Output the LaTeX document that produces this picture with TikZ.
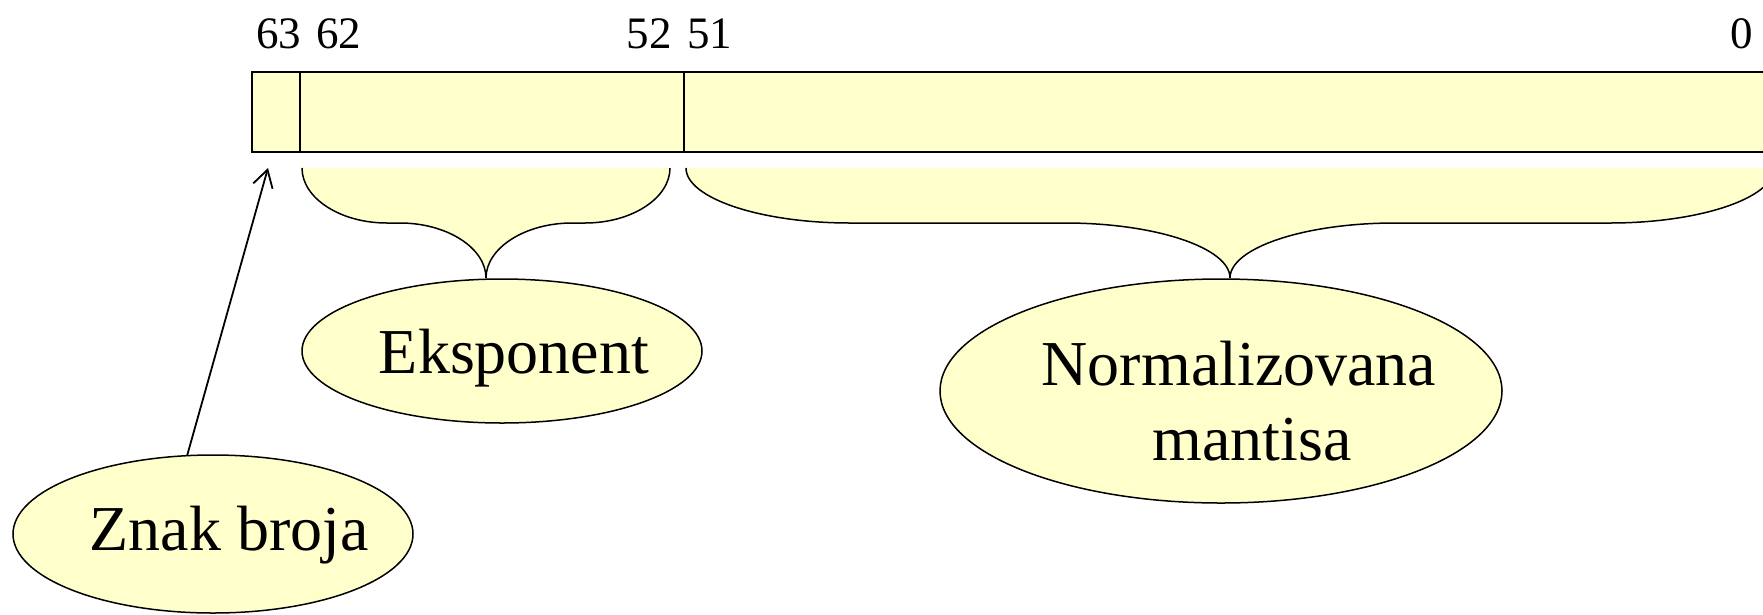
\documentclass[tikz,border=0pt]{standalone}
\usepackage{fontspec}
\setmainfont{Liberation Serif}
\usetikzlibrary{arrows.meta,shapes.geometric}
\definecolor{paleyel}{HTML}{FFFFCC}
\begin{document}
\begin{tikzpicture}[x=1pt,y=-1pt,
  field/.style={draw=black, line width=2pt, fill=paleyel, rectangle, minimum height=80pt, inner sep=0pt, outer sep=0pt},
  bitnum/.style={inner sep=0pt, font=\fontsize{45}{54}\selectfont},
  bubble/.style={draw=black, line width=1.5pt, fill=paleyel, ellipse, inner sep=0pt},
  bubtxt/.style={inner sep=0pt, anchor=base, font=\fontsize{64}{75}\selectfont},
  bracefill/.style={fill=paleyel, draw=none},
  braceline/.style={draw=black, line width=1.5pt},
  ptr/.style={draw=black, line width=1.8pt, -{Straight Barb[length=17pt,width=20pt]}}]
\useasboundingbox (0,0) rectangle (1763,614);
\clip (0,0) rectangle (1763,614);

% register fields
\node[field, minimum width=48pt] (sign) at (276,112) {};
\node[field, minimum width=384pt] (expo) at (492,112) {};
\node[field, minimum width=1100pt] (mant) at (1234,112) {};

% bit numbers
\node[bitnum, anchor=base west] (b63) at (256,48) {63};
\node[bitnum, anchor=base west] (b62) at (316,48) {62};
\node[bitnum, anchor=base east] (b52) at (672,48) {52};
\node[bitnum, anchor=base west] (b51) at (687,48) {51};
\node[bitnum, anchor=base east] (b0) at (1753,48) {0};

% exponent brace
\path[bracefill] (302,168) .. controls (302,198) and (340,223) .. (387,223) -- (400,223)
  .. controls (447,223) and (486,248) .. (486,278)
  .. controls (486,248) and (525,223) .. (572,223) -- (585,223)
  .. controls (632,223) and (670,198) .. (670,168) -- cycle;
\path[braceline] (302,168) .. controls (302,198) and (340,223) .. (387,223) -- (400,223)
  .. controls (447,223) and (486,248) .. (486,278)
  .. controls (486,248) and (525,223) .. (572,223) -- (585,223)
  .. controls (632,223) and (670,198) .. (670,168);

% mantissa brace
\path[bracefill] (686,168) .. controls (686,198) and (760,223) .. (850,223) -- (1065,223)
  .. controls (1156,223) and (1230,248) .. (1230,278)
  .. controls (1230,248) and (1304,223) .. (1395,223) -- (1610,223)
  .. controls (1700,223) and (1774,198) .. (1774,168) -- cycle;
\path[braceline] (686,168) .. controls (686,198) and (760,223) .. (850,223) -- (1065,223)
  .. controls (1156,223) and (1230,248) .. (1230,278)
  .. controls (1230,248) and (1304,223) .. (1395,223) -- (1610,223)
  .. controls (1700,223) and (1774,198) .. (1774,168);

% bubbles
\node[bubble, minimum width=400pt, minimum height=158pt] (znak) at (213,534) {};
\node[bubble, minimum width=400pt, minimum height=144pt] (eksp) at (502,351) {};
\node[bubble, minimum width=562pt, minimum height=224pt] (norm) at (1221,391) {};

\node[bubtxt] (znaktxt) at (229,550) {Znak broja};
\node[bubtxt] (eksptxt) at (514,373) {Eksponent};
\node[bubtxt] (normtxt) at (1239,385) {Normalizovana};
\node[bubtxt] (manttxt) at (1252,460) {mantisa};

% pointer to sign bit
\coordinate (signtip) at (268,168);
\draw[ptr] (znak.108) -- (signtip);
\end{tikzpicture}
\end{document}
